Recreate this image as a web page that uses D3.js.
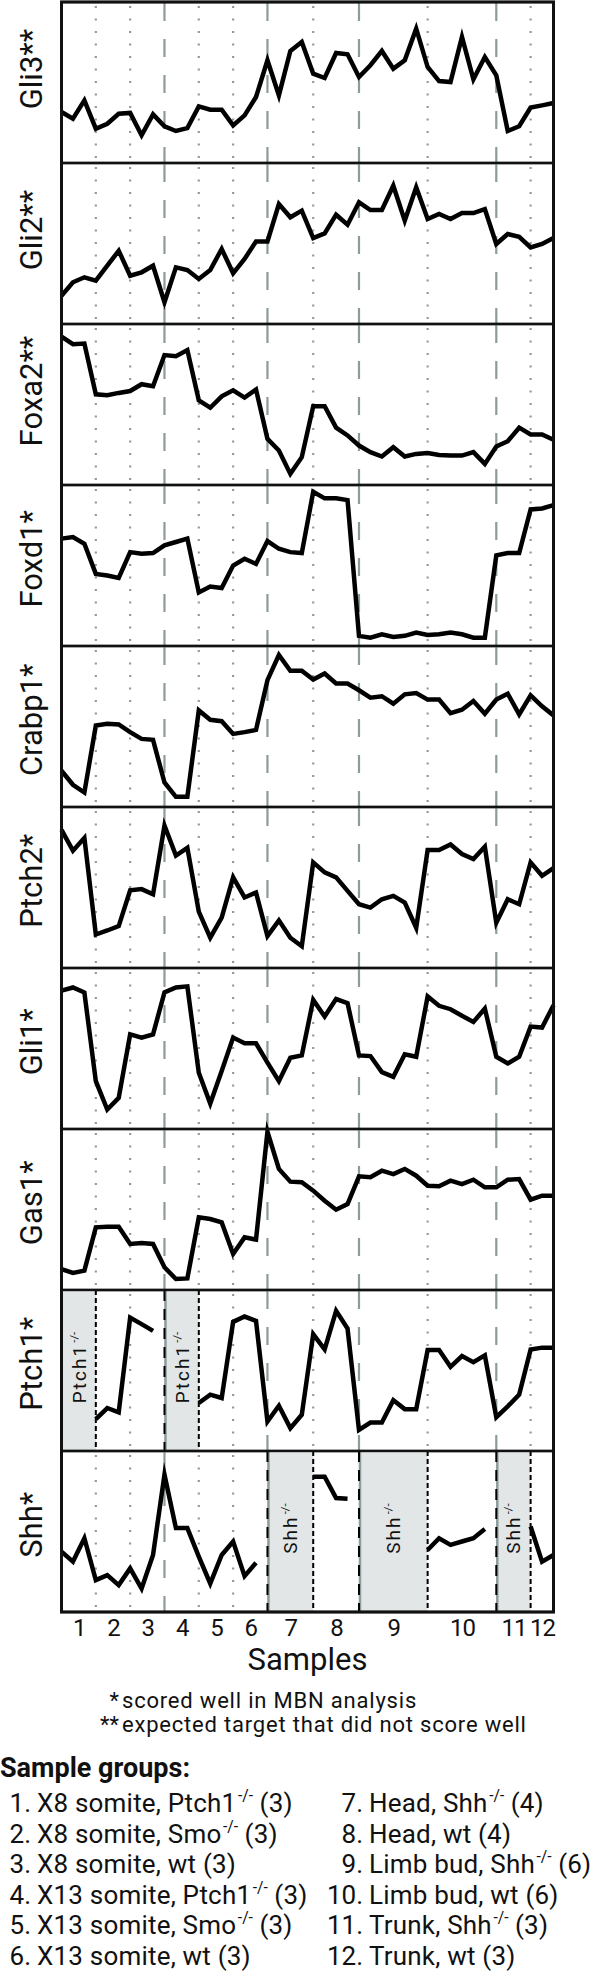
<!DOCTYPE html>
<html><head><meta charset="utf-8">
<script src="https://cdn.jsdelivr.net/npm/d3@7"></script>
<style>body{margin:0;background:#fff}svg{display:block}</style>
</head><body>
<svg id="chart" width="600" height="1974"></svg>
<script>
// ---------------- data ----------------
const groupLabels = ["1","2","3","4","5","6","7","8","9","10","11","12"];
const samplesPerGroup = [3,3,3,3,3,3,4,4,6,6,3,3];
const groupNames = ["X8 somite, Ptch1-/-","X8 somite, Smo-/-","X8 somite, wt",
  "X13 somite, Ptch1-/-","X13 somite, Smo-/-","X13 somite, wt",
  "Head, Shh-/-","Head, wt","Limb bud, Shh-/-","Limb bud, wt","Trunk, Shh-/-","Trunk, wt"];
const tissueBreakGroups = [3, 6, 8, 10]; // groups preceded by a dashed line
const genes = ["Gli3","Gli2","Foxa2","Foxd1","Crabp1","Ptch2","Gli1","Gas1","Ptch1","Shh"];
const geneMarks = ["**","**","**","*","*","*","*","*","*","*"];

const gli3 = [31.7,27.5,38.9,21.3,24.4,30.6,31.1,17.2,30.2,22.8,19.9,21.7,35.2,33.1,33.1,23.4,29.6,41.0,63.8,42.0,69.6,75.2,55.5,52.8,68.3,67.5,53.4,60.7,69.6,58.6,63.8,83.4,59.6,50.9,50.3,78.3,52.0,65.8,54.5,19.9,22.8,34.4,35.8,37.3];
const gli2 = [17.6,25.9,29.0,26.9,36.2,45.5,30.0,32.1,36.2,13.5,35.2,33.5,28.0,33.5,46.6,31.5,40.4,51.3,51.3,74.5,66.3,70.4,53.4,56.3,67.9,61.7,75.6,70.8,70.8,85.9,64.2,84.9,65.2,68.3,65.2,68.9,68.9,71.4,49.7,55.9,54.2,47.6,49.7,53.4];
const foxa2 = [92.1,87.5,87.9,56.3,55.7,57.2,58.4,62.6,61.3,80.7,80.0,83.8,52.6,48.0,55.1,58.8,54.3,59.3,28.7,21.4,6.9,17.3,48.9,48.9,35.6,30.8,24.5,20.4,17.7,23.5,17.7,19.3,19.8,18.7,18.3,18.3,20.4,13.1,23.9,27.2,35.6,31.4,31.4,28.1];
const foxd1 = [66.7,67.7,63.5,44.8,43.8,42.3,58.3,57.3,57.7,62.5,64.6,66.7,33.3,36.9,36.0,50.0,54.2,51.0,65.2,60.4,58.3,57.7,95.8,91.7,91.7,90.6,6.3,5.2,7.3,5.6,6.3,8.3,6.9,7.3,8.3,7.3,5.2,5.2,56.3,57.7,57.7,84.8,85.4,87.5];
const crabp1 = [22.5,13.8,9.0,50.6,51.7,51.3,46.5,42.3,41.7,15.2,6.3,6.3,60.0,54.2,53.3,45.4,46.5,47.9,78.8,94.4,84.6,84.6,79.2,82.9,76.7,76.7,72.5,67.9,68.8,64.2,70.0,70.8,66.7,66.7,58.3,60.4,65.8,57.9,66.7,70.4,57.5,69.4,62.5,56.9];
const ptch2 = [85.8,72.9,80.8,20.8,23.3,26.0,48.3,49.0,45.8,88.5,69.8,74.6,35.0,18.8,31.3,56.3,43.8,46.9,19.8,29.6,18.8,13.5,65.6,59.4,56.3,47.9,39.6,37.5,42.7,44.8,40.6,25.0,73.3,73.3,76.7,70.8,67.7,75.4,28.1,42.7,39.6,65.6,57.3,62.1];
const gli1 = [85.9,87.9,84.8,29.7,12.1,19.3,58.8,56.8,58.8,84.8,87.9,88.6,34.9,15.8,36.0,56.8,53.2,53.2,41.2,29.7,44.3,45.7,80.2,69.9,80.7,78.2,45.7,45.3,35.3,32.4,46.4,44.9,82.3,76.5,74.4,70.3,66.5,74.8,44.9,40.7,44.9,63.6,63.0,76.9];
const gas1 = [13.0,10.6,12.0,38.9,39.3,39.3,28.6,29.2,28.6,14.1,6.8,7.2,45.1,44.1,42.0,22.4,32.7,31.3,98.3,75.2,67.3,66.9,61.7,55.5,49.9,53.4,70.6,70.0,74.1,72.0,75.2,71.0,64.8,64.4,67.9,65.8,68.5,63.8,63.8,68.5,68.9,56.1,58.6,58.6];
const ptch1 = [null,null,null,19.8,26.7,24.0,82.9,78.8,74.6,null,null,null,29.8,35.0,32.9,80.2,83.5,80.8,18.3,28.1,14.2,22.5,72.5,63.1,87.1,76.0,13.1,17.7,17.7,31.5,26.0,26.0,62.7,62.7,52.3,59.0,55.2,59.4,21.0,27.7,35.0,63.1,64.2,64.2];
const shh = [37.5,31.3,45.8,19.8,22.9,16.7,27.1,14.6,35.4,85.4,52.1,52.1,34.4,17.7,35.4,43.8,22.3,30.6,null,null,null,null,84.0,84.0,70.8,70.4,null,null,null,null,null,null,38.5,45.8,41.7,43.8,45.8,51.5,null,null,null,53.1,31.3,35.4];

const seriesByGene = [gli3, gli2, foxa2, foxd1, crabp1, ptch2, gli1, gas1, ptch1, shh];
const shadedGroups = { "Ptch1": [0, 3], "Shh": [6, 8, 10] };
const shadedLabel = { "Ptch1": "Ptch1-/-", "Shh": "Shh-/-" };

const axisTitle = "Samples";
const footnotes = [["*", "scored well in MBN analysis"], ["**", "expected target that did not score well"]];
const legendTitle = "Sample groups:";

// ---------------- layout ----------------
const FONT = "Roboto, 'Open Sans', sans-serif";
const plotLeft = 61.5, plotRight = 553.5, plotTop = 2, panelH = 161;
const nSamples = d3.sum(samplesPerGroup);
const lastIdx = nSamples - 1;
const groupStart = d3.cumsum([0, ...samplesPerGroup]);
const gridColor = "#8d9b9b";
const shadeColor = "#e2e6e6";
const ink = "#111";

const svg = d3.select("#chart");
const x = d3.scaleLinear().domain([0, lastIdx]).range([plotLeft, plotRight]);
const groupEnd = g => Math.min(groupStart[g + 1], lastIdx);

// draws "text-/- more" as consecutive text elements (superscript "-/-"), returns total width
function richText(parent, str, size, spacing) {
  const pieces = [];
  str.split("-/-").forEach((p, i, arr) => {
    if (p.length) pieces.push({ t: p, sup: false });
    if (i < arr.length - 1) pieces.push({ t: "-/-", sup: true });
  });
  const spaceW = size * 0.25;
  let cx = 0;
  pieces.forEach(pc => {
    const fs = pc.sup ? size * 0.6 : size;
    let txt = pc.t;
    if (txt.startsWith(" ")) { txt = txt.trimStart(); cx += spaceW; }
    if (pc.sup) cx += size * 0.06;
    const el = parent.append("text").attr("x", cx).attr("y", pc.sup ? -size * 0.42 : 0)
      .attr("font-family", FONT).attr("font-size", fs).attr("fill", ink)
      .attr("letter-spacing", pc.sup ? 0 : (spacing || 0)).text(txt);
    cx += el.node().getComputedTextLength();
  });
  return cx;
}

genes.forEach((gene, p) => {
  const top = plotTop + p * panelH, bottom = top + panelH;
  const y = d3.scaleLinear().domain([0, 100]).range([bottom, top]);
  const g = svg.append("g");
  const shaded = shadedGroups[gene] || [];
  const edgeIdx = new Set();
  shaded.forEach(gi => { edgeIdx.add(groupStart[gi]); edgeIdx.add(groupStart[gi + 1]); });

  shaded.forEach(gi => {
    g.append("rect").attr("x", x(groupStart[gi])).attr("y", top)
      .attr("width", x(groupEnd(gi)) - x(groupStart[gi])).attr("height", panelH)
      .attr("fill", shadeColor);
  });

  for (let gi = 1; gi < samplesPerGroup.length; gi++) {
    const idx = groupStart[gi];
    if (edgeIdx.has(idx)) continue;
    const major = tissueBreakGroups.includes(gi);
    g.append("line").attr("x1", x(idx)).attr("x2", x(idx)).attr("y1", top).attr("y2", bottom)
      .attr("stroke", gridColor).attr("stroke-width", 2.2)
      .attr("stroke-dasharray", major ? "18,18" : "2,10.5")
      .attr("stroke-dashoffset", major ? -1 : -4);
  }

  shaded.forEach(gi => {
    const l = groupStart[gi], r = groupStart[gi + 1];
    if (l > 0) {
      g.append("line").attr("x1", x(l) + 1).attr("x2", x(l) + 1).attr("y1", top).attr("y2", bottom)
        .attr("stroke", gridColor).attr("stroke-width", 2.5);
      g.append("line").attr("x1", x(l)).attr("x2", x(l)).attr("y1", top).attr("y2", bottom)
        .attr("stroke", "#000").attr("stroke-width", 2).attr("stroke-dasharray", "11,8");
    }
    g.append("line").attr("x1", x(r)).attr("x2", x(r)).attr("y1", top).attr("y2", bottom)
      .attr("stroke", "#000").attr("stroke-width", 2).attr("stroke-dasharray", "5,3");
    const cx = (x(l) + x(groupEnd(gi))) / 2, cy = (top + bottom) / 2 - 3;
    const lg = g.append("g");
    const w = richText(lg, shadedLabel[gene], 19, 2);
    lg.attr("transform", `translate(${cx + 7},${cy + w / 2}) rotate(-90)`);
  });

  const line = d3.line().defined(d => d != null).x((d, i) => x(i)).y(d => y(d));
  g.append("path").datum(seriesByGene[p]).attr("d", line)
    .attr("fill", "none").attr("stroke", "#000").attr("stroke-width", 4.5)
    .attr("stroke-linejoin", "miter").attr("stroke-miterlimit", 6);

  g.append("rect").attr("x", plotLeft).attr("y", top).attr("width", plotRight - plotLeft).attr("height", panelH)
    .attr("fill", "none").attr("stroke", ink).attr("stroke-width", 2.4);

  // gene label: the gene name is centred on the panel, asterisks trail it
  const lab = g.append("text").attr("font-family", FONT).attr("font-size", 31).attr("fill", ink)
    .text(gene + geneMarks[p]);
  const nameLen = lab.node().getSubStringLength(0, gene.length);
  lab.attr("transform", `translate(42,${(top + bottom) / 2 + nameLen / 2}) rotate(-90)`);
});

svg.append("rect").attr("x", plotLeft).attr("y", plotTop).attr("width", plotRight - plotLeft)
  .attr("height", panelH * genes.length).attr("fill", "none").attr("stroke", ink).attr("stroke-width", 3);

// x axis with group labels
const mids = groupLabels.map((_, gi) => (groupStart[gi] + groupEnd(gi)) / 2);
const axis = d3.axisBottom(x).tickValues(mids).tickFormat((d, i) => groupLabels[i]).tickSize(0).tickPadding(7);
const axG = svg.append("g").attr("transform", `translate(0,${plotTop + panelH * genes.length})`).call(axis);
axG.select(".domain").remove();
axG.selectAll("text").attr("font-family", FONT).attr("font-size", 24).attr("letter-spacing", -1).attr("fill", ink);

svg.append("text").attr("x", (plotLeft + plotRight) / 2).attr("y", 1670).attr("text-anchor", "middle")
  .attr("font-family", FONT).attr("font-size", 31).attr("fill", ink).text(axisTitle);

footnotes.forEach((f, i) => {
  svg.append("text").attr("x", 119).attr("y", 1708 + i * 24).attr("text-anchor", "end")
    .attr("font-family", FONT).attr("font-size", 22).attr("fill", ink).text(f[0]);
  svg.append("text").attr("x", 122).attr("y", 1708 + i * 24)
    .attr("font-family", FONT).attr("font-size", 22).attr("letter-spacing", 0.8).attr("fill", ink).text(f[1]);
});

svg.append("text").attr("x", 0).attr("y", 1777).attr("font-family", FONT).attr("font-weight", "bold")
  .attr("font-size", 27).attr("fill", ink).text(legendTitle);

groupNames.forEach((name, gi) => {
  const col = gi < 6 ? 0 : 1, row = gi % 6;
  const yy = 1812 + row * 30.5;
  const numEnd = col === 0 ? 31 : 363, txt = col === 0 ? 37 : 369;
  svg.append("text").attr("x", numEnd).attr("y", yy).attr("text-anchor", "end")
    .attr("font-family", FONT).attr("font-size", 26).attr("fill", ink).text(groupLabels[gi] + ".");
  const lg = svg.append("g").attr("transform", `translate(${txt},${yy})`);
  richText(lg, `${name} (${samplesPerGroup[gi]})`, 26, 0.2);
});
</script>
</body></html>
